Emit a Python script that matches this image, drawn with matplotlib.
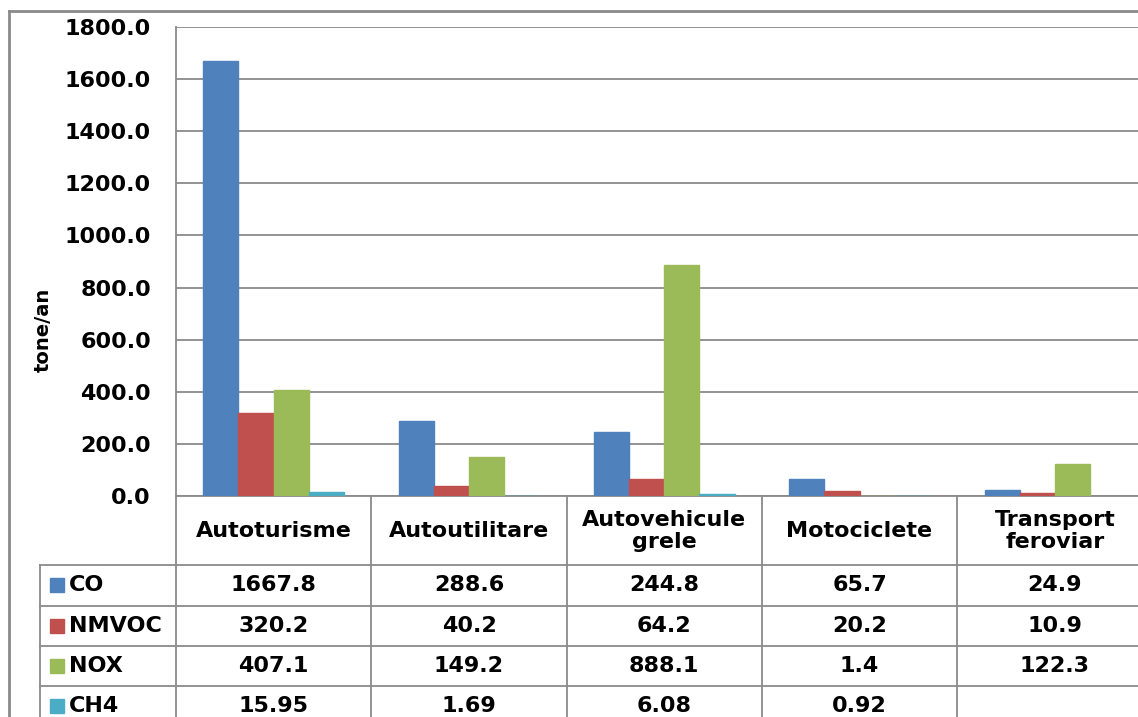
import matplotlib
matplotlib.use("Agg")
import matplotlib.pyplot as plt
from matplotlib.lines import Line2D
from matplotlib.patches import Rectangle
from matplotlib.transforms import blended_transform_factory
import numpy as np

# date (tone/an)
categorii = ['Autoturisme', 'Autoutilitare', 'Autovehicule\ngrele', 'Motociclete', 'Transport\nferoviar']
poluanti = ['CO', 'NMVOC', 'NOX', 'CH4']
co = [1667.8, 288.6, 244.8, 65.7, 24.9]
nmvoc = [320.2, 40.2, 64.2, 20.2, 10.9]
nox = [407.1, 149.2, 888.1, 1.4, 122.3]
ch4 = [15.95, 1.69, 6.08, 0.92, None]
etichete = [
    ['1667.8', '288.6', '244.8', '65.7', '24.9'],
    ['320.2', '40.2', '64.2', '20.2', '10.9'],
    ['407.1', '149.2', '888.1', '1.4', '122.3'],
    ['15.95', '1.69', '6.08', '0.92', ''],
]
culori = ['#4F81BD', '#C0504D', '#9BBB59', '#4BACC6']
gri = '#8a8a8a'

W, H = 1138, 717
plt.rcParams['font.family'] = 'DejaVu Sans'
plt.rcParams['font.weight'] = 'bold'
fig = plt.figure(figsize=(W / 100, H / 100), dpi=100)

def fx(px):
    return px / W

def fy(py):
    return 1 - py / H

col_w = 195.3
ax = fig.add_axes([fx(176), fy(496), 5 * col_w / W, 469 / H])

x = np.arange(len(categorii))
bw = 0.18
serii = [co, nmvoc, nox, ch4]
for i, (s, c) in enumerate(zip(serii, culori)):
    idx = [k for k, v in enumerate(s) if v is not None]
    vals = [s[k] for k in idx]
    ax.bar(x[idx] + (i - 1.5) * bw, vals, bw, color=c, edgecolor=c,
           linewidth=1.0, zorder=3, label=poluanti[i])

ax.set_xlim(-0.5, len(categorii) - 0.5)
ax.set_ylim(0, 1800)
ax.set_yticks(np.arange(0, 1801, 200))
ax.set_yticklabels(['%.1f' % v for v in np.arange(0, 1801, 200)], fontsize=16, fontweight='bold')
ax.set_xticks([])
ax.tick_params(axis='y', length=0, pad=18)
ax.grid(axis='y', color=gri, linewidth=1.3, zorder=0)
for sp in ['top', 'right']:
    ax.spines[sp].set_visible(False)
for sp in ['left', 'bottom']:
    ax.spines[sp].set_color(gri)
    ax.spines[sp].set_linewidth(1.3)

fig.text(fx(43), fy(330), 'tone/an', rotation=90, ha='center', va='center',
         fontsize=14, fontweight='bold')

# tabel de date
tr = blended_transform_factory(ax.transData, fig.transFigure)
for b in np.arange(-0.5, len(categorii), 1.0):
    fig.add_artist(Line2D([b, b], [fy(496), 0], transform=tr, color=gri, lw=1.3))
fig.add_artist(Line2D([fx(40), fx(40)], [fy(565), 0], color=gri, lw=1.3))
for ry in [565, 606, 646, 686]:
    fig.add_artist(Line2D([fx(40), 1], [fy(ry), fy(ry)], color=gri, lw=1.3))

for i, cat in enumerate(categorii):
    fig.text(i, fy(531), cat, transform=tr, ha='center', va='center',
             fontsize=16, fontweight='bold', linespacing=1.15)

centre = [585, 626, 666, 706]
for r, (nume, c) in enumerate(zip(poluanti, culori)):
    cy = centre[r]
    fig.add_artist(Rectangle((fx(50), fy(cy + 7)), 14 / W, 14 / H, color=c,
                             transform=fig.transFigure))
    fig.text(fx(69), fy(cy), nume, ha='left', va='center', fontsize=16, fontweight='bold')
    for i in range(len(categorii)):
        fig.text(i, fy(cy), etichete[r][i], transform=tr, ha='center', va='center',
                 fontsize=16, fontweight='bold')

# chenar exterior
fig.add_artist(Line2D([fx(9), 1], [fy(11), fy(11)], color=gri, lw=2))
fig.add_artist(Line2D([fx(9), fx(9)], [fy(11), 0], color=gri, lw=2))

fig.savefig('out.png', dpi=100)
